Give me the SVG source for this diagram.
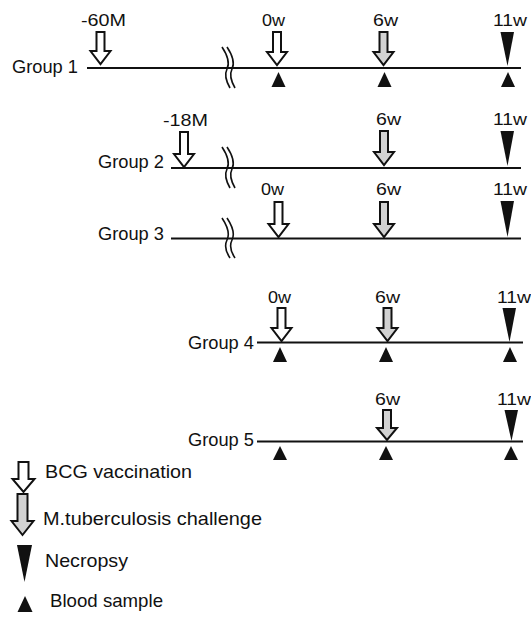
<svg xmlns="http://www.w3.org/2000/svg" width="531" height="617" viewBox="0 0 531 617">
<style>
text{font-family:"Liberation Sans",Arial,sans-serif;fill:#111}
.gl{font-size:18px}
.tl{font-size:16.5px}
.lg{font-size:18.5px}
.line{stroke:#111;stroke-width:2;fill:none}
.brk{stroke:#111;stroke-width:1.6;fill:none}
.bcg{fill:#fff;stroke:#111;stroke-width:2;stroke-linejoin:miter}
.chl{fill:#d2d2d2;stroke:#111;stroke-width:2;stroke-linejoin:miter}
.tri{fill:#111;stroke:none}
</style>
<rect width="531" height="617" fill="#fff"/>

<g id="connectors">
<path class="line" d="M87,68 H521"/>
<path class="line" d="M171,168 H521"/>
<path class="line" d="M171,238.5 H521"/>
<path class="line" d="M257,342.5 H523"/>
<path class="line" d="M257,441.5 H523"/>
</g>

<g id="group1">
<text class="gl" x="12" y="73" textLength="66" lengthAdjust="spacingAndGlyphs">Group 1</text>
<text class="tl" x="81" y="26" textLength="45" lengthAdjust="spacingAndGlyphs">-60M</text>
<text class="tl" x="262" y="26" textLength="23" lengthAdjust="spacingAndGlyphs">0w</text>
<text class="tl" x="373" y="26" textLength="25" lengthAdjust="spacingAndGlyphs">6w</text>
<text class="tl" x="493" y="26" textLength="34" lengthAdjust="spacingAndGlyphs">11w</text>
<path class="bcg" d="M96.5,32 H104.5 V51 H110.5 L100.5,64 L90.5,51 H96.5 Z"/>
<path class="brk" d="M222,47 C228,56 230,63 227,69 C224,75 226,81 230,88"/>
<path class="brk" d="M227,47 C233,56 235,63 232,69 C229,75 231,81 235,88"/>
<path class="bcg" d="M273,32 H281 V52 H287 L277,65 L267,52 H273 Z"/>
<path class="chl" d="M379.5,32 H387.5 V52 H393.5 L383.5,65 L373.5,52 H379.5 Z"/>
<path class="tri" d="M500.5,32 H514 L507.5,66 Z"/>
<path class="tri" d="M271.5,87 L278.5,72 L285.5,87 Z"/>
<path class="tri" d="M377.5,87 L384.5,72 L391.5,87 Z"/>
<path class="tri" d="M501,87 L508,72 L515,87 Z"/>
</g>

<g id="group2">
<text class="gl" x="98" y="168" textLength="66" lengthAdjust="spacingAndGlyphs">Group 2</text>
<text class="tl" x="163" y="126" textLength="45" lengthAdjust="spacingAndGlyphs">-18M</text>
<text class="tl" x="376" y="125" textLength="25" lengthAdjust="spacingAndGlyphs">6w</text>
<text class="tl" x="493" y="125" textLength="34" lengthAdjust="spacingAndGlyphs">11w</text>
<path class="bcg" d="M180,132 H188 V154 H194 L184,167 L174,154 H180 Z"/>
<path class="brk" d="M222,147 C228,156 230,163 227,169 C224,175 226,181 230,188"/>
<path class="brk" d="M227,147 C233,156 235,163 232,169 C229,175 231,181 235,188"/>
<path class="chl" d="M380,131 H388 V152 H394 L384,165 L374,152 H380 Z"/>
<path class="tri" d="M500.5,131 H514 L507.5,166 Z"/>
</g>

<g id="group3">
<text class="gl" x="98" y="240" textLength="66" lengthAdjust="spacingAndGlyphs">Group 3</text>
<text class="tl" x="261" y="195" textLength="23" lengthAdjust="spacingAndGlyphs">0w</text>
<text class="tl" x="376" y="195" textLength="25" lengthAdjust="spacingAndGlyphs">6w</text>
<text class="tl" x="493" y="195" textLength="34" lengthAdjust="spacingAndGlyphs">11w</text>
<path class="brk" d="M222,218 C228,227 230,234 227,240 C224,246 226,252 230,258"/>
<path class="brk" d="M227,218 C233,227 235,234 232,240 C229,246 231,252 235,258"/>
<path class="bcg" d="M274.5,202 H282.5 V224 H288.5 L278.5,237 L268.5,224 H274.5 Z"/>
<path class="chl" d="M380,202 H388 V224 H394 L384,237 L374,224 H380 Z"/>
<path class="tri" d="M500.5,201 H514 L507.5,237 Z"/>
</g>

<g id="group4">
<text class="gl" x="188" y="349" textLength="66" lengthAdjust="spacingAndGlyphs">Group 4</text>
<text class="tl" x="268" y="303" textLength="23" lengthAdjust="spacingAndGlyphs">0w</text>
<text class="tl" x="375" y="303" textLength="25" lengthAdjust="spacingAndGlyphs">6w</text>
<text class="tl" x="497" y="303" textLength="34" lengthAdjust="spacingAndGlyphs">11w</text>
<path class="bcg" d="M277.5,308 H285.5 V328 H291.5 L281.5,341 L271.5,328 H277.5 Z"/>
<path class="chl" d="M383.5,308 H391.5 V328 H397.5 L387.5,341 L377.5,328 H383.5 Z"/>
<path class="tri" d="M502.5,308 H516 L509.5,342 Z"/>
<path class="tri" d="M273,362 L280,347 L287,362 Z"/>
<path class="tri" d="M379,362 L386,347 L393,362 Z"/>
<path class="tri" d="M503,362 L510,347 L517,362 Z"/>
</g>

<g id="group5">
<text class="gl" x="188" y="446" textLength="66" lengthAdjust="spacingAndGlyphs">Group 5</text>
<text class="tl" x="375" y="405" textLength="25" lengthAdjust="spacingAndGlyphs">6w</text>
<text class="tl" x="497" y="405" textLength="34" lengthAdjust="spacingAndGlyphs">11w</text>
<path class="chl" d="M383,410 H391 V428 H397 L387,440 L377,428 H383 Z"/>
<path class="tri" d="M504.5,410 H518 L511.5,441 Z"/>
<path class="tri" d="M273,460 L280,446 L287,460 Z"/>
<path class="tri" d="M379,460 L386,446 L393,460 Z"/>
<path class="tri" d="M504,460 L511,446 L518,460 Z"/>
</g>

<g id="legend-bcg">
<path class="bcg" d="M18.5,462 H28.5 V479 H34.5 L23.5,492 L12.5,479 H18.5 Z"/>
<text class="lg" x="45" y="478" textLength="147" lengthAdjust="spacingAndGlyphs">BCG vaccination</text>
</g>
<g id="legend-challenge">
<path class="chl" d="M17.5,494 H27.5 V521 H33.5 L22.5,535 L11.5,521 H17.5 Z"/>
<text class="lg" x="43" y="525" textLength="219" lengthAdjust="spacingAndGlyphs">M.tuberculosis challenge</text>
</g>
<g id="legend-necropsy">
<path class="tri" d="M17,545 H32 L24.5,582 Z"/>
<text class="lg" x="45" y="567" textLength="83" lengthAdjust="spacingAndGlyphs">Necropsy</text>
</g>
<g id="legend-blood">
<path class="tri" d="M17.5,612 L25,596 L32.5,612 Z"/>
<text class="lg" x="50" y="607" textLength="113" lengthAdjust="spacingAndGlyphs">Blood sample</text>
</g>
</svg>
